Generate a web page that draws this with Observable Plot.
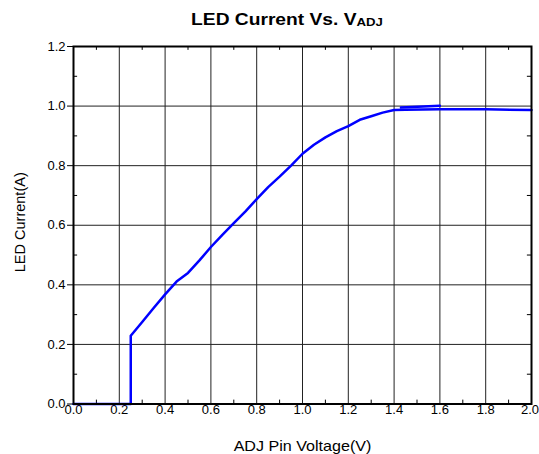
<!DOCTYPE html>
<html>
<head>
<meta charset="utf-8">
<script src="https://cdn.jsdelivr.net/npm/d3@7"></script>
<script src="https://cdn.jsdelivr.net/npm/@observablehq/plot@0.6"></script>
<style>
  html, body { margin: 0; padding: 0; background: #fff; }
  body { width: 539px; height: 454px; overflow: hidden; font-family: "Liberation Sans", Arial, sans-serif; }
  #title { position: relative; height: 34px; }
  #title span.t { position: absolute; left: 0; width: 574px; top: 11.5px; text-align: center;
    font-size: 16px; font-weight: bold; line-height: 16px; color: #000;
    transform: scaleX(1.2); transform-origin: 287px 0; white-space: nowrap; }
  #title span.s { font-size: 11px; position: relative; top: 1px; }
</style>
</head>
<body>
<div id="title"><span class="t">LED Current Vs. V<span class="s">ADJ</span></span></div>
<div id="chart"></div>
<script>
// Main sweep: ADJ pin voltage (V) vs LED current (A)
const voltage = [0, 0.25, 0.25, 0.3, 0.35, 0.4, 0.45, 0.5, 0.55, 0.6, 0.65, 0.7, 0.75, 0.8, 0.85, 0.9, 0.95, 1.0, 1.05, 1.1, 1.15, 1.2, 1.25, 1.3, 1.35, 1.4, 1.45, 1.6, 1.8, 2.0];
const current = [0, 0, 0.229, 0.275, 0.322, 0.368, 0.411, 0.440, 0.482, 0.527, 0.568, 0.607, 0.646, 0.688, 0.728, 0.763, 0.800, 0.840, 0.870, 0.895, 0.916, 0.933, 0.954, 0.966, 0.978, 0.987, 0.988, 0.989, 0.989, 0.987];
// Small upper overlap segment near full current
const voltageUpper = [1.43, 1.6];
const currentUpper = [0.995, 1.001];

const xTicks = [0, 0.2, 0.4, 0.6, 0.8, 1.0, 1.2, 1.4, 1.6, 1.8, 2.0];
const yTicks = [0, 0.2, 0.4, 0.6, 0.8, 1.0, 1.2];
const xMinor = [0.1, 0.3, 0.5, 0.7, 0.9, 1.1, 1.3, 1.5, 1.7, 1.9];
const yMinor = [0.1, 0.3, 0.5, 0.7, 0.9, 1.1];
const xLabel = "ADJ Pin Voltage(V)";
const yLabel = "LED Current(A)";

const main = voltage.map((v, i) => ({v, c: current[i]}));
const upper = voltageUpper.map((v, i) => ({v, c: currentUpper[i]}));

const fmt = d => d.toFixed(1);
const plot = Plot.plot({
  width: 539,
  height: 420,
  marginTop: 12,
  marginBottom: 50.5,
  marginLeft: 73,
  marginRight: 8,
  style: {fontFamily: "'Liberation Sans', Arial, sans-serif", fontSize: "12px", color: "#000", background: "#fff"},
  x: {domain: [0, 2], axis: null},
  y: {domain: [0, 1.2], axis: null},
  marks: [
    Plot.ruleX(xTicks.slice(1, -1), {stroke: "#222", strokeWidth: 1}),
    Plot.ruleY(yTicks.slice(1, -1), {stroke: "#222", strokeWidth: 1}),
    // minor inward ticks on the frame
    Plot.ruleX(xMinor, {y1: 0, y2: 0.013, stroke: "#000", strokeWidth: 1}),
    Plot.ruleX(xMinor, {y1: 1.187, y2: 1.2, stroke: "#000", strokeWidth: 1}),
    Plot.ruleY(yMinor, {x1: 0, x2: 0.018, stroke: "#000", strokeWidth: 1}),
    Plot.ruleY(yMinor, {x1: 1.982, x2: 2, stroke: "#000", strokeWidth: 1}),
    // outward major ticks on the y axis
    Plot.ruleY(yTicks, {x1: -0.026, x2: 0, stroke: "#000", strokeWidth: 1}),
    // tick labels
    Plot.text(yTicks, {y: d => d, text: fmt, frameAnchor: "left", textAnchor: "end", lineAnchor: "middle", dx: -8, fontSize: 13, fill: "#000"}),
    Plot.text(xTicks.slice(0, -1), {x: d => d, text: fmt, frameAnchor: "bottom", textAnchor: "middle", lineAnchor: "top", dy: 0.5, fontSize: 13, fill: "#000"}),
    Plot.text(xTicks.slice(-1), {x: d => d, text: fmt, frameAnchor: "bottom", textAnchor: "end", lineAnchor: "top", dx: 7.5, dy: 0.5, fontSize: 13, fill: "#000"}),
    Plot.line(main, {x: "v", y: "c", stroke: "#0000ff", strokeWidth: 2.5}),
    Plot.line(upper, {x: "v", y: "c", stroke: "#0000ff", strokeWidth: 2.5}),
    Plot.frame({stroke: "#000", strokeWidth: 2}),
    Plot.text([xLabel], {frameAnchor: "bottom", lineAnchor: "bottom", textAnchor: "middle", dy: 47, fontSize: 14, fill: "#000", className: "xlab"}),
    Plot.text([yLabel], {frameAnchor: "left", textAnchor: "middle", lineAnchor: "middle", dx: -53, dy: -3, rotate: -90, fontSize: 14.5, fill: "#000"})
  ]
});
document.getElementById("chart").appendChild(plot);

// horizontally stretch the x-axis label to match the reference typography
function stretch(el, s) {
  const x = +el.getAttribute("x") || 0;
  const t = el.getAttribute("transform") || "";
  el.setAttribute("transform", `${t} translate(${x},0) scale(${s},1) translate(${-x},0)`);
}
plot.querySelectorAll(".xlab text").forEach(el => stretch(el, 1.15));
</script>
</body>
</html>
